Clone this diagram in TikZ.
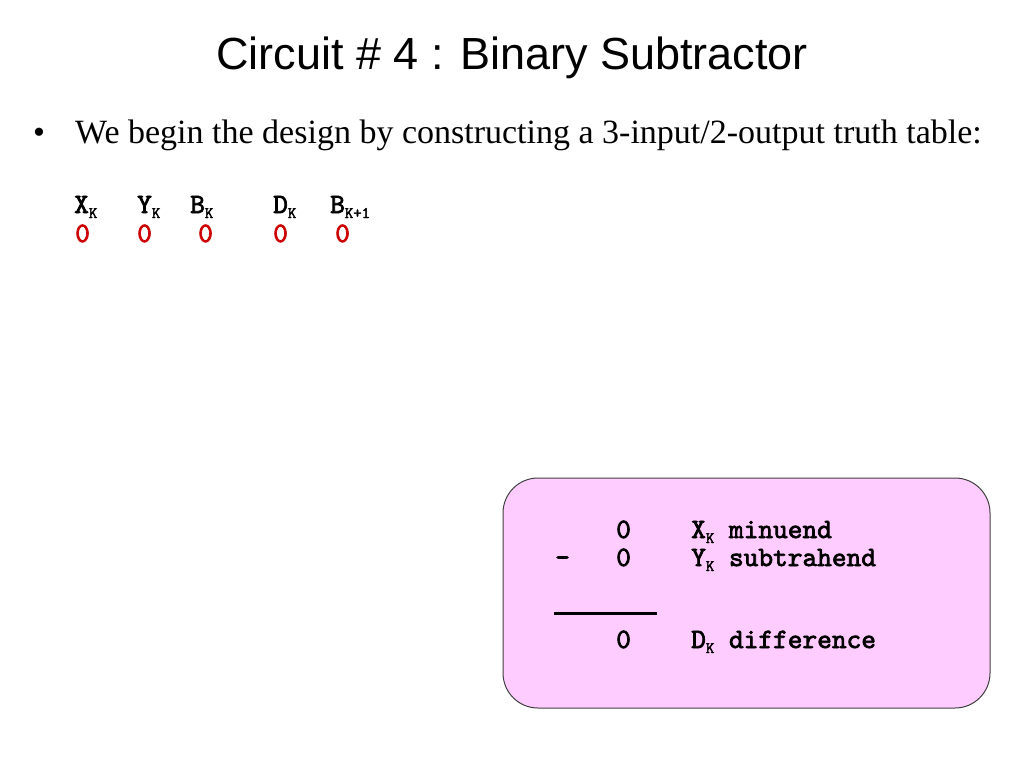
\documentclass[tikz,border=0pt]{standalone}
\usepackage{fontspec}
\setmainfont{Liberation Serif}
\newfontfamily\arial{Liberation Sans}
\newfontfamily\courier[FakeBold=2.5]{lmmono10-regular.otf}
\usepackage{tikz}
\usetikzlibrary{positioning}
\definecolor{boxpink}{HTML}{FFCCFF}
\definecolor{digitred}{HTML}{CC0000}
\newcommand{\subk}[1]{\raisebox{-5pt}{\fontsize{16}{16}\selectfont #1}}

\begin{document}
\begin{tikzpicture}[x = 1pt, y = -1pt,
    every node/.style = { inner sep = 0pt, anchor = base west },
    mono/.style = { font = \courier\fontsize{28}{28}\selectfont },
    bit/.style = { mono, text = digitred }]
    \useasboundingbox (0,0) rectangle (1024,768);
    \node (title) [anchor = base, font = \arial\fontsize{45}{45}\selectfont] at (512,69) {Circuit \# 4 : Binary Subtractor};
    \node (dot) [font = \fontsize{34}{34}\selectfont] at (33,143) {\textbullet};
    \node (intro) [font = \fontsize{34}{34}\selectfont] at (75,143) {We begin the design by constructing a 3-input/2-output truth table:};
    % truth table
    \node (xk) [mono] at (74,213) {X\subk{K}};
    \node (yk) [mono] at (137,213) {Y\subk{K}};
    \node (bk) [mono] at (190,213) {B\subk{K}};
    \node (dk) [mono] at (273,213) {D\subk{K}};
    \node (bk1) [mono] at (330,213) {B\subk{K+1}};
    \node (x0) [bit] at (75,242) {0};
    \node (y0) [bit] at (137,242) {0};
    \node (b0) [bit] at (198,242) {0};
    \node (d0) [bit] at (273,242) {0};
    \node (c0) [bit] at (335,242) {0};
    % subtraction box
    \node (box) [draw = black!75, line width = 1pt, fill = boxpink, rounded corners = 35pt, anchor = center,
      minimum width = 487pt, minimum height = 230pt] at (746.5,593) {};
    \node (m0) [mono] at (616,538) {0};
    \node (mlab) [mono] at (691,538) {X\subk{K} minuend};
    \node (minus) [mono] at (555,566) {-};
    \node (s0) [mono] at (616,566) {0};
    \node (slab) [mono] at (691,566) {Y\subk{K} subtrahend};
    \coordinate (rulel) at (554,613);
    \coordinate (ruler) at (657,613);
    \draw [line width = 3pt] (rulel) -- (ruler);
    \node (d0box) [mono] at (616,648) {0};
    \node (dlab) [mono] at (691,648) {D\subk{K} difference};
\end{tikzpicture}
\end{document}
